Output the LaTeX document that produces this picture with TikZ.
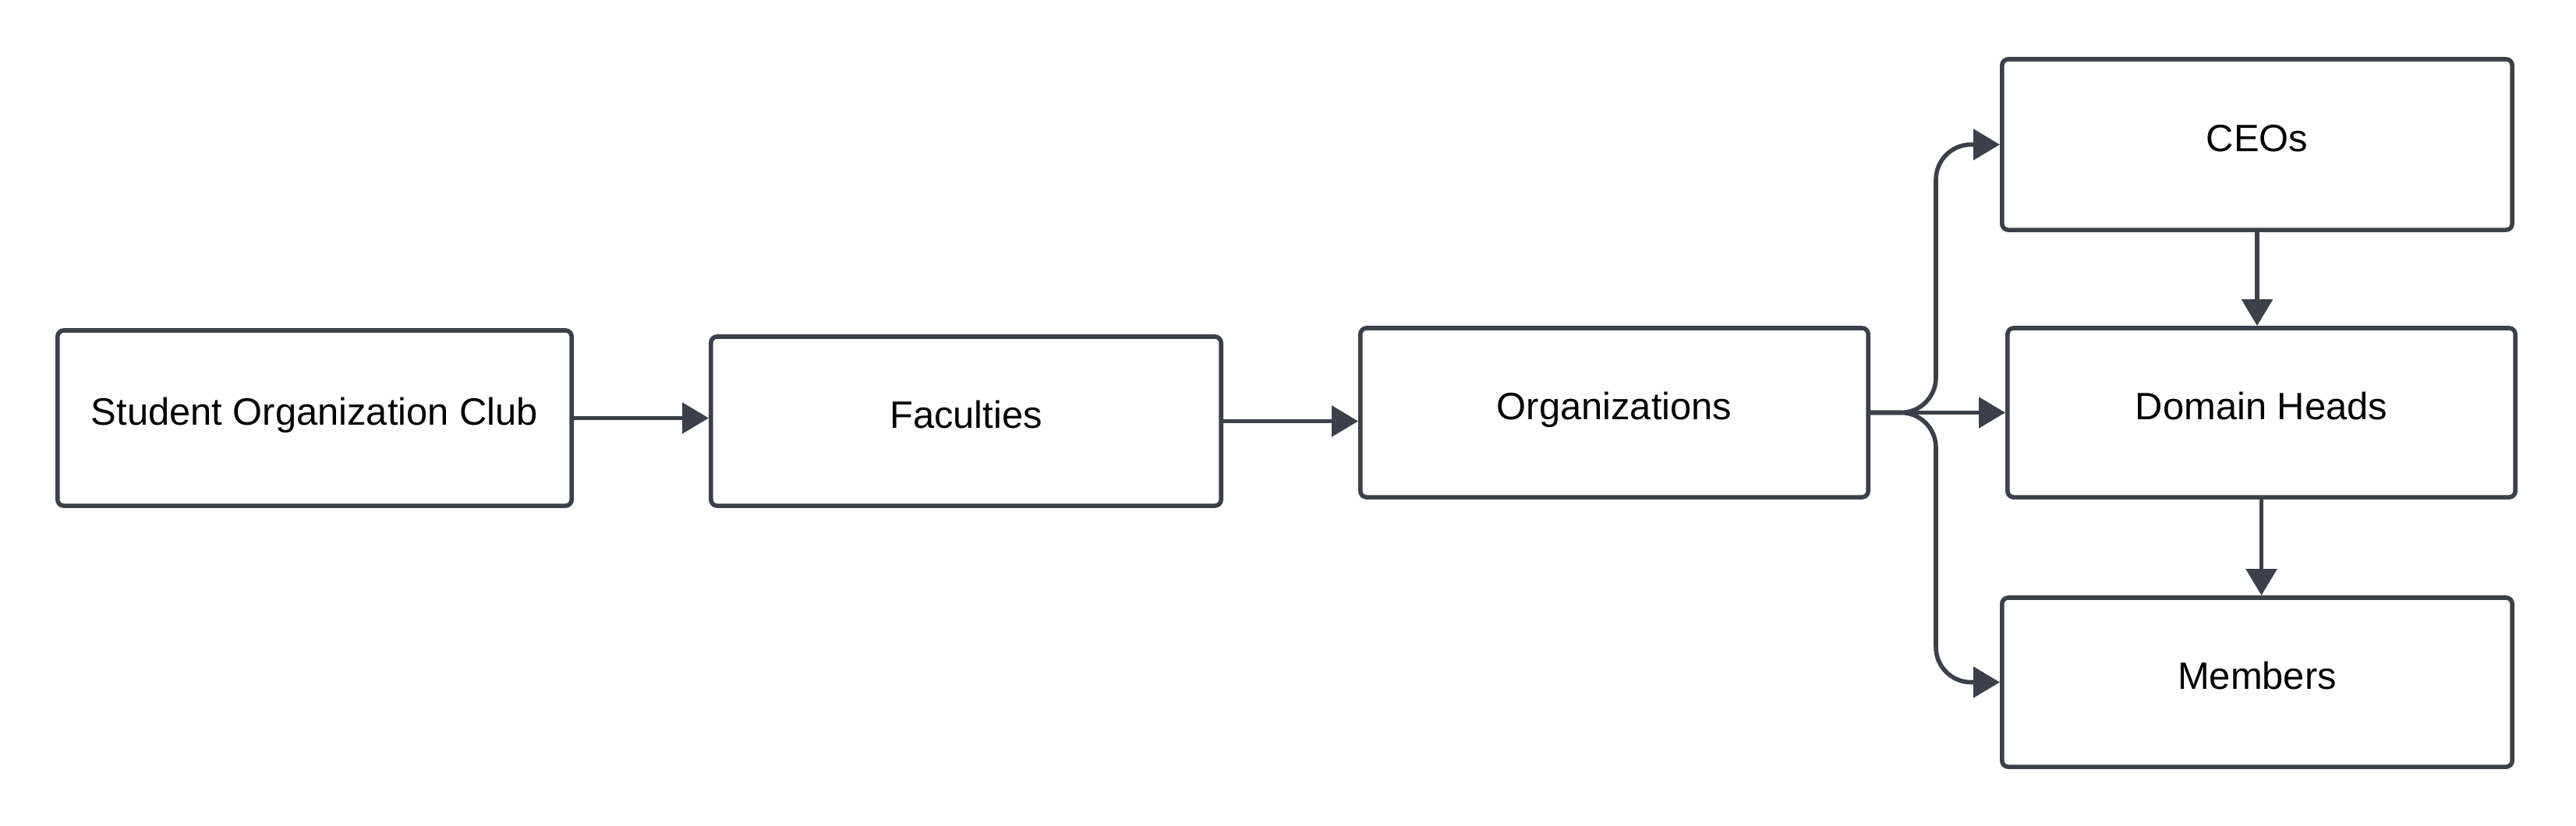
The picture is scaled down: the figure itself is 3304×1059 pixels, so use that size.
\documentclass[tikz,border=0pt]{standalone}
\usepackage{fontspec}
\setmainfont{Liberation Sans}
\usetikzlibrary{arrows.meta}
\definecolor{ln}{RGB}{60,64,72}
\begin{document}
\begin{tikzpicture}[x=0.01cm,y=-0.01cm,
  box/.style={draw=ln, line width=0.056cm, rounded corners=0.08cm, fill=white, inner sep=0pt,
    text height=0.34cm, text depth=0.16cm, font=\fontsize{13.9pt}{16pt}\selectfont},
  conn/.style={draw=ln, line width=0.056cm, -{Triangle[length=0.34cm,width=0.39cm]}}]
\useasboundingbox (0,0) rectangle (3304,1059);
\node[box, minimum width=6.59cm, minimum height=2.25cm] (soc) at (403.5,536.5) {Student Organization Club};
\node[box, minimum width=6.54cm, minimum height=2.17cm] (fac) at (1239,540.5) {Faculties};
\node[box, minimum width=6.51cm, minimum height=2.17cm] (org) at (2070.5,529.5) {Organizations};
\node[box, minimum width=6.54cm, minimum height=2.19cm] (ceo) at (2895,185.5) {CEOs};
\node[box, minimum width=6.51cm, minimum height=2.17cm] (dh) at (2900.5,529.5) {Domain Heads};
\node[box, minimum width=6.54cm, minimum height=2.17cm] (mem) at (2895,875.5) {Members};
\coordinate (fork) at (2483,529.5);
\draw[conn] (soc.east) -- (soc.east -| fac.west);
\draw[conn] (fac.east) -- (fac.east -| org.west);
\draw[conn] (org.east) -- (dh.west);
\draw[conn, rounded corners=0.45cm] (org.east) -- (fork) |- (ceo.west);
\draw[conn, rounded corners=0.45cm] (org.east) -- (fork) |- (mem.west);
\draw[conn] (ceo.south) -- (ceo.south |- dh.north);
\draw[conn] (dh.south) -- (dh.south |- mem.north);
\end{tikzpicture}
\end{document}
